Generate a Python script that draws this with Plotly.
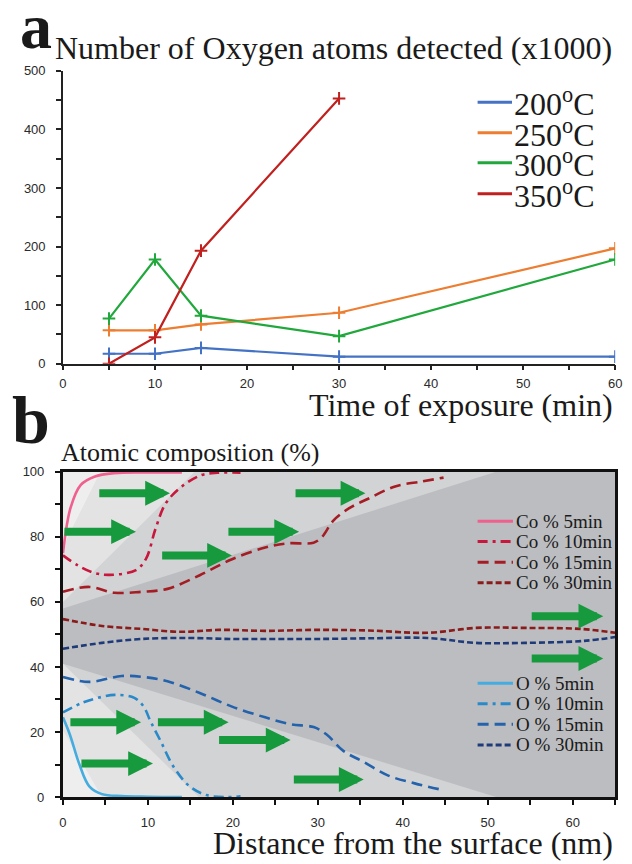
import plotly.graph_objects as go

# ---------------- Panel a data ----------------
time_min = [5, 10, 15, 30, 60]
o_200 = [17, 17, 27, 12, 12]
o_250 = [57, 57, 67, 87, 197]
o_300 = [77, 178, 82, 47, 178]
o_350 = [0, 45, 193, 453]
a_labels = ["200<sup>o</sup>C", "250<sup>o</sup>C", "300<sup>o</sup>C", "350<sup>o</sup>C"]
a_colors = ["#4472c4", "#ed7d31", "#21a83c", "#c0201e"]

# ---------------- Panel b data ----------------
co5_x = [0, 0.9, 2.1, 3.7, 6, 10, 14]
co5_y = [75, 89, 96, 98.5, 99.6, 99.8, 99.8]
co10_x = [0, 1.7, 3.7, 5.5, 8.6, 9.8, 10.9, 12.1, 14, 16.3, 18.2, 20.9]
co10_y = [74.3, 71.3, 68.9, 68.3, 69.8, 73.4, 82.5, 90.3, 95.5, 99, 99.7, 99.7]
co15_x = [0, 3.1, 6.1, 9.2, 12.3, 16.1, 19.9, 23.8, 26.4, 29.5, 30.5, 31.8, 33.7, 36, 39.1, 42.2, 44.8]
co15_y = [63.1, 64.6, 62.8, 63.1, 64, 68.2, 73.1, 76.7, 78, 78.2, 80, 84.9, 88.8, 91.8, 95.5, 97, 98.2]
co30_x = [0, 4.6, 9.2, 13.8, 18.4, 23.8, 29.9, 36, 42.9, 48.6, 54.4, 60.9, 65]
co30_y = [54.7, 52.6, 51.7, 50.8, 51.4, 51.1, 51.4, 51.2, 50.5, 52, 52, 51.7, 50.5]
o5_x = [0, 0.8, 1.9, 3.1, 4.6, 6.9, 10, 14]
o5_y = [24.5, 19.3, 10.3, 3.3, 0.9, 0.3, 0.1, 0]
o10_x = [0, 2.3, 4.6, 6.1, 8.4, 9.5, 10.3, 11.5, 13, 14.9, 16.9, 19.2, 20.9]
o10_y = [26, 29, 30.8, 31.4, 30.5, 27.8, 23.3, 17.2, 9.4, 3.3, 0.6, 0, 0.2]
o15_x = [0, 3.1, 6.9, 9.5, 12.3, 16.1, 19.9, 23.8, 26.8, 29.5, 31, 33, 35.3, 38.3, 41.4, 44.8]
o15_y = [36.9, 35.4, 37.2, 36.9, 35.6, 32, 27.8, 24.5, 22.4, 21.5, 19.3, 14.2, 10.9, 6.6, 4.2, 2.1]
o30_x = [0, 4.6, 9.2, 14.6, 19.9, 24.9, 29.9, 36, 42.9, 48.6, 54.4, 61.3, 65]
o30_y = [45.6, 47.4, 48.6, 48.9, 48.6, 48.6, 48.6, 48.8, 48.9, 47.4, 47.4, 48, 49.2]

co_labels = ["Co % 5min", "Co % 10min", "Co % 15min", "Co % 30min"]
o_labels = ["O % 5min", "O % 10min", "O % 15min", "O % 30min"]
co_colors = ["#f0608f", "#c8173c", "#a51d24", "#8a1b1b"]
o_colors = ["#45ace0", "#2a89c9", "#2462ab", "#1f3a78"]
dashes = ["solid", "10px,5px,3px,5px", "11px,6px", "6px,3px"]

# arrows: start x, end x, y
arrow_x0 = [4.1, 0.0, 11.5, 19.3, 27.2, 55.0, 55.0, 0.7, 11.0, 18.2, 2.0, 27.0]
arrow_x1 = [12.6, 8.6, 19.9, 27.8, 35.6, 63.6, 63.6, 9.2, 19.5, 26.8, 10.6, 35.4]
arrow_y = [93.4, 81.6, 74.3, 81.6, 93.4, 55.6, 42.6, 23.0, 23.0, 17.5, 10.3, 5.4]

# background shading polygons (distance, composition)
shade_polys = [
    ([0, 65, 65, 0], [0, 0, 100, 100], "#bcbdc0"),
    ([0, 51, 0], [58, 100, 100], "#d2d3d5"),
    ([0, 15.5, 0], [60, 100, 100], "#e3e3e4"),
    ([0, 4.4, 0], [77, 100, 100], "#eeeeee"),
    ([0, 51, 0], [41, 0, 0], "#d2d3d5"),
    ([0, 16, 0], [41, 0, 0], "#e3e3e4"),
    ([0, 4.6, 0], [20.5, 0, 0], "#eeeeee"),
]

W, H = 632, 864
def px(x):
    return x / W
def py(y):
    return 1 - y / H

SERIF = "Liberation Serif"
SANS = "Liberation Sans"

fig = go.Figure()

# Panel a traces
for xs, ys, c in zip([time_min, time_min, time_min, time_min[:4]],
                     [o_200, o_250, o_300, o_350], a_colors):
    fig.add_trace(go.Scatter(
        x=xs, y=ys, mode="lines+markers", xaxis="x", yaxis="y",
        line=dict(color=c, width=2.2),
        marker=dict(symbol="cross-thin", size=9, line=dict(color=c, width=2)),
        showlegend=False))

# Panel b traces
for xs, ys, c, d in zip([co5_x, co10_x, co15_x, co30_x], [co5_y, co10_y, co15_y, co30_y], co_colors, dashes):
    fig.add_trace(go.Scatter(x=xs, y=ys, mode="lines", xaxis="x2", yaxis="y2",
                             line=dict(color=c, width=2.6, dash=d, shape="spline"),
                             showlegend=False))
for xs, ys, c, d in zip([o5_x, o10_x, o15_x, o30_x], [o5_y, o10_y, o15_y, o30_y], o_colors, dashes):
    fig.add_trace(go.Scatter(x=xs, y=ys, mode="lines", xaxis="x2", yaxis="y2",
                             line=dict(color=c, width=2.6, dash=d, shape="spline"),
                             showlegend=False))

shapes = []
for xs, ys, col in shade_polys:
    path = "M " + " L ".join(f"{a} {b}" for a, b in zip(xs, ys)) + " Z"
    shapes.append(dict(type="path", path=path, xref="x2", yref="y2", layer="below",
                       fillcolor=col, line=dict(width=0)))

annotations = []
# arrows
for x0, x1, y in zip(arrow_x0, arrow_x1, arrow_y):
    annotations.append(dict(x=x1, y=y, ax=x0, ay=y, xref="x2", yref="y2", axref="x2", ayref="y2",
                            text="", showarrow=True, arrowhead=2, arrowsize=0.62, arrowwidth=8,
                            arrowcolor="#17993e", standoff=0, startstandoff=0))

# manual legend panel a
a_leg_y = [97, 128, 158.5, 190]
for lab, c, yy in zip(a_labels, a_colors, a_leg_y):
    shapes.append(dict(type="line", xref="paper", yref="paper", x0=px(482), x1=px(517),
                       y0=py(yy), y1=py(yy), line=dict(color=c, width=3)))
    annotations.append(dict(x=px(517), y=py(yy), xref="paper", yref="paper", text=lab,
                            showarrow=False, xanchor="left", yanchor="middle",
                            font=dict(family=SERIF, size=32, color="#1a1a1a")))

# manual legends panel b
co_leg_y = [523.3, 544, 565, 586]
o_leg_y = [688.3, 709, 730, 751]
for labs, cols, ys in [(co_labels, co_colors, co_leg_y), (o_labels, o_colors, o_leg_y)]:
    for lab, c, d, yy in zip(labs, cols, dashes, ys):
        shapes.append(dict(type="line", xref="paper", yref="paper", x0=px(482), x1=px(518),
                           y0=py(yy), y1=py(yy), line=dict(color=c, width=3, dash=d)))
        annotations.append(dict(x=px(519), y=py(yy), xref="paper", yref="paper", text=lab,
                                showarrow=False, xanchor="left", yanchor="middle",
                                font=dict(family=SERIF, size=19, color="#1a1a1a")))

# titles
texts = [
    ("<b>a</b>", 14, 20, 64, "left"),
    ("Number of Oxygen atoms detected (x1000)", 50, 42, 32, "left"),
    ("Time of exposure (min)", 622, 405, 32, "right"),
    ("<b>b</b>", 6, 420, 68, "left"),
    ("Atomic composition (%)", 56, 453, 26, "left"),
    ("Distance from the surface (nm)", 622, 851, 32, "right"),
]
for t, x, y, s, anc in texts:
    annotations.append(dict(x=px(x), y=py(y), xref="paper", yref="paper", text=t,
                            showarrow=False, xanchor=anc, yanchor="middle",
                            font=dict(family=SERIF, size=s, color="#1a1a1a")))

tickfont = dict(family=SANS, size=13, color="#2a2a2a")
fig.update_layout(
    width=W, height=H, margin=dict(l=0, r=0, t=0, b=0),
    paper_bgcolor="white", plot_bgcolor="rgba(0,0,0,0)",
    showlegend=False,
    xaxis=dict(domain=[px(60), px(622)], range=[0, 60], anchor="y",
               showgrid=False, zeroline=False, showline=True, linecolor="#222", linewidth=1.5,
               tickmode="linear", tick0=0, dtick=10, ticks="outside", ticklen=5, tickwidth=1.5,
               tickcolor="#222", ticklabelstandoff=2, tickfont=tickfont,
               minor=dict(dtick=5, ticks="outside", ticklen=5, tickwidth=1.5, tickcolor="#222")),
    yaxis=dict(domain=[py(363), py(65)], range=[0, 500], anchor="x",
               showgrid=False, zeroline=False, showline=True, linecolor="#222", linewidth=1.5,
               tickmode="linear", tick0=0, dtick=100, ticks="outside", ticklen=5, tickwidth=1.5,
               tickcolor="#222", ticklabelstandoff=8, tickfont=tickfont,
               minor=dict(dtick=50, ticks="outside", ticklen=5, tickwidth=1.5, tickcolor="#222")),
    xaxis2=dict(domain=[px(60), px(622)], range=[0, 65], anchor="y2",
                showgrid=False, zeroline=False, showline=True, mirror=True, linecolor="#111", linewidth=3,
                tickmode="linear", tick0=0, dtick=10, ticks="outside", ticklen=5, tickwidth=2,
                tickcolor="#111", ticklabelstandoff=6, tickfont=tickfont,
                minor=dict(dtick=5, ticks="outside", ticklen=5, tickwidth=2, tickcolor="#111")),
    yaxis2=dict(domain=[py(804), py(473)], range=[0, 100], anchor="x2",
                showgrid=False, zeroline=False, showline=True, mirror=True, linecolor="#111", linewidth=3,
                tickmode="linear", tick0=0, dtick=20, ticks="outside", ticklen=5, tickwidth=2,
                tickcolor="#111", ticklabelstandoff=8, tickfont=tickfont,
                minor=dict(dtick=10, ticks="outside", ticklen=5, tickwidth=2, tickcolor="#111")),
    shapes=shapes,
    annotations=annotations,
)

fig.write_html("out.html")
